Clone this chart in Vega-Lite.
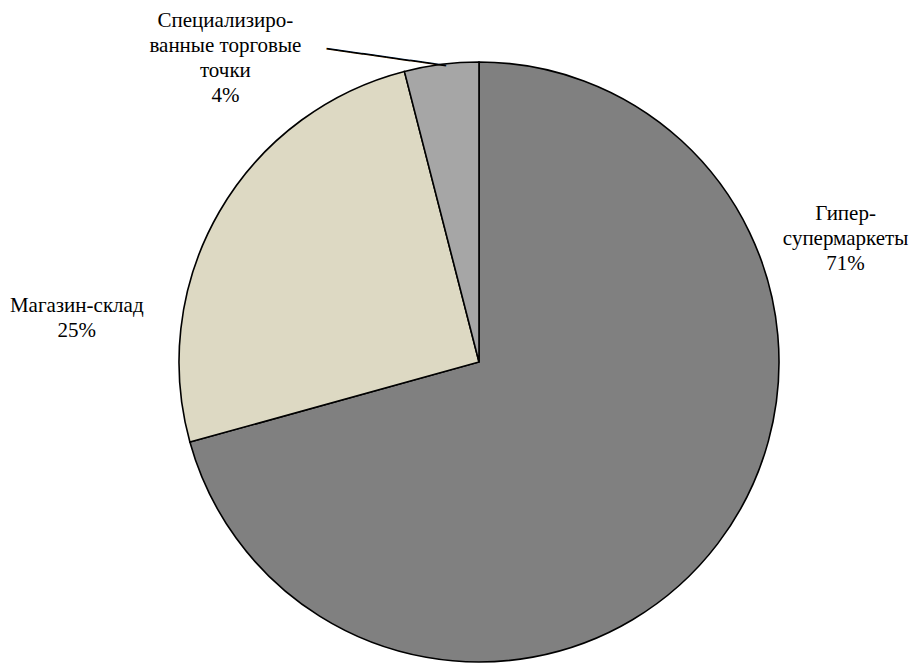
{
  "$schema": "https://vega.github.io/schema/vega-lite/v6.json",
  "width": 600,
  "height": 600,
  "autosize": "none",
  "padding": {"left": 179, "top": 62, "right": 130, "bottom": 1},
  "background": "white",
  "view": {"stroke": null},
  "config": {"text": {"font": "Liberation Serif, Times New Roman, serif"}},
  "data": {
    "values": [
      {"cat": "Гипер-супермаркеты", "value": 70.7, "idx": 1, "label": "Гипер-\nсупермаркеты\n71%"},
      {"cat": "Магазин-склад", "value": 25.3, "idx": 2, "label": "Магазин-склад\n25%"},
      {"cat": "Специализированные торговые точки", "value": 4.0, "idx": 3, "label": "Специализиро-\nванные торговые\nточки\n4%"}
    ]
  },
  "encoding": {
    "theta": {"field": "value", "type": "quantitative", "stack": true},
    "order": {"field": "idx", "type": "quantitative"}
  },
  "layer": [
    {
      "mark": {"type": "arc", "stroke": "black", "strokeWidth": 1.6},
      "encoding": {
        "color": {
          "field": "cat",
          "type": "nominal",
          "scale": {
            "domain": ["Гипер-супермаркеты", "Магазин-склад", "Специализированные торговые точки"],
            "range": ["#808080", "#DDD9C3", "#A6A6A6"]
          },
          "legend": null
        }
      }
    },
    {
      "mark": {"type": "text", "radius": 340, "dx": 96, "dy": -354, "font": "Liberation Serif, Times New Roman, serif", "fontSize": 21, "lineHeight": 25, "lineBreak": "\n", "align": "center", "baseline": "middle", "color": "black"},
      "encoding": {"text": {"condition": {"test": "datum.idx == 1", "field": "label"}, "value": ""}}
    },
    {
      "mark": {"type": "text", "radius": 340, "dx": -108, "dy": 114, "font": "Liberation Serif, Times New Roman, serif", "fontSize": 21, "lineHeight": 25, "lineBreak": "\n", "align": "center", "baseline": "middle", "color": "black"},
      "encoding": {"text": {"condition": {"test": "datum.idx == 2", "field": "label"}, "value": ""}}
    },
    {
      "mark": {"type": "text", "radius": 340, "dx": -211, "dy": -4, "font": "Liberation Serif, Times New Roman, serif", "fontSize": 21, "lineHeight": 25, "lineBreak": "\n", "align": "center", "baseline": "middle", "color": "black"},
      "encoding": {"text": {"condition": {"test": "datum.idx == 3", "field": "label"}, "value": ""}}
    },
    {
      "mark": {"type": "text", "radius": 340, "dx": -45, "dy": 40, "angle": 8, "font": "DejaVu Sans Mono", "fontSize": 20, "align": "center", "baseline": "middle", "color": "black"},
      "encoding": {"text": {"condition": {"test": "datum.idx == 3", "value": "──────────"}, "value": ""}}
    }
  ]
}
